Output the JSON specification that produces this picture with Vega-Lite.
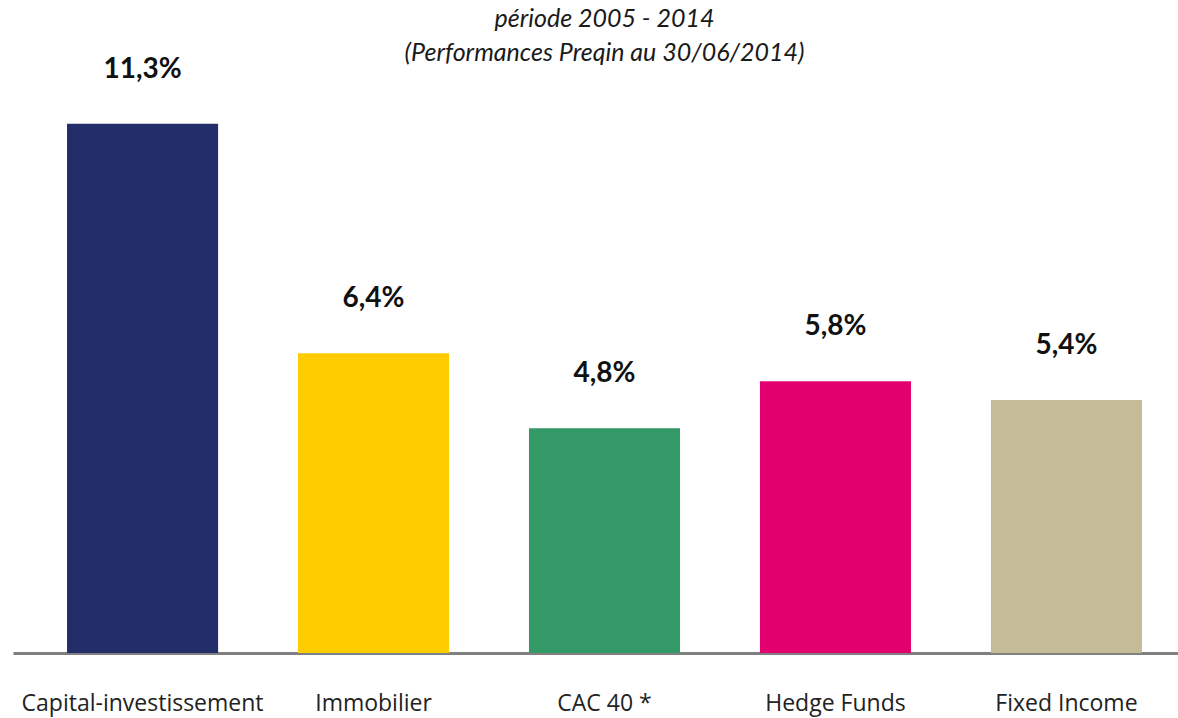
{
  "$schema": "https://vega.github.io/schema/vega-lite/v6.json",
  "autosize": "none",
  "width": 1183,
  "height": 562,
  "padding": {"left": 13, "top": 91, "right": 0, "bottom": 65},
  "background": "white",
  "config": {
    "view": {"stroke": null},
    "locale": {"number": {"decimal": ",", "thousands": " ", "grouping": [3], "currency": ["", " €"]}}
  },
  "title": {
    "text": ["période 2005 - 2014", "(Performances Preqin au 30/06/2014)"],
    "font": "Lato",
    "fontStyle": "italic",
    "fontWeight": "normal",
    "fontSize": 25,
    "lineHeight": 34,
    "color": "#1a1a1a",
    "anchor": "middle",
    "offset": -10
  },
  "data": {
    "values": [
      {"cat": "Capital-investissement", "v": 0.113},
      {"cat": "Immobilier", "v": 0.064},
      {"cat": "CAC 40 *", "v": 0.048},
      {"cat": "Hedge Funds", "v": 0.058},
      {"cat": "Fixed Income", "v": 0.054}
    ]
  },
  "encoding": {
    "x": {
      "field": "cat", "type": "nominal", "sort": null,
      "scale": {"paddingInner": 0.346, "paddingOuter": 0.234},
      "axis": {
        "title": null, "labelAngle": 0, "ticks": false,
        "domainColor": "#808080", "domainWidth": 3,
        "labelFont": "Open Sans", "labelFontSize": 23, "labelColor": "#222222",
        "labelPadding": 39, "labelLimit": 0
      }
    },
    "y": {
      "field": "v", "type": "quantitative",
      "scale": {"domain": [0, 0.12]},
      "axis": null
    }
  },
  "layer": [
    {
      "mark": {"type": "bar"},
      "encoding": {
        "color": {
          "field": "cat", "type": "nominal", "legend": null,
          "scale": {
            "domain": ["Capital-investissement", "Immobilier", "CAC 40 *", "Hedge Funds", "Fixed Income"],
            "range": ["#222D6A", "#FFCC00", "#339966", "#E2006E", "#C4BC96"]
          }
        }
      }
    },
    {
      "mark": {"type": "text", "font": "Lato", "fontWeight": "bold", "fontSize": 28, "baseline": "middle", "dy": -54, "color": "#111111"},
      "encoding": {
        "text": {"field": "v", "type": "quantitative", "format": ".1%"}
      }
    }
  ]
}
